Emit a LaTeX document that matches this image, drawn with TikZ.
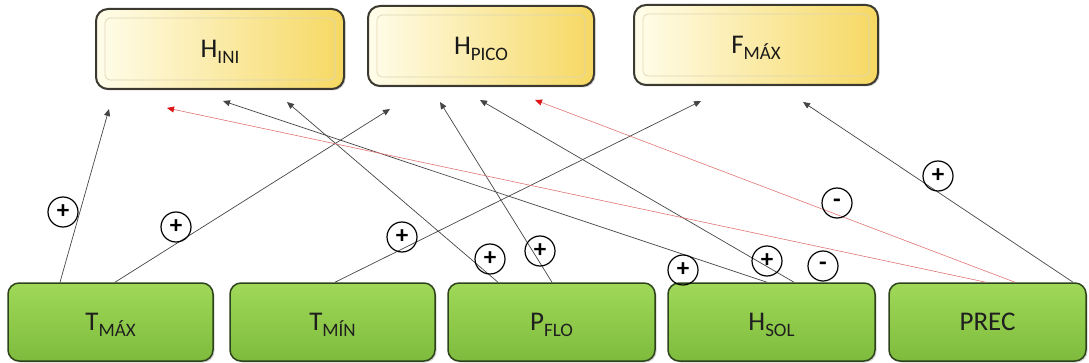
\documentclass[tikz,border=0pt]{standalone}
\usepackage{fontspec}
\setmainfont{Carlito}
\usetikzlibrary{arrows.meta,shadows}

\definecolor{creamL}{HTML}{FFFDEB}
\definecolor{creamM}{HTML}{FEF3C2}
\definecolor{goldR}{HTML}{F6D862}
\definecolor{topedge}{HTML}{3C3A30}
\definecolor{innerln}{HTML}{DDD6B4}
\definecolor{greenT}{HTML}{A0D95A}
\definecolor{greenM}{HTML}{8FCB48}
\definecolor{greenB}{HTML}{7EBB3C}
\definecolor{greenedge}{HTML}{2D431B}
\definecolor{linkgray}{HTML}{454545}
\definecolor{linkred}{HTML}{E27474}
\definecolor{tipred}{HTML}{E01414}

% variable name with a lowered subscript that does not change the box height
\newcommand\varname[2]{#1\raisebox{-6pt}[0pt][0pt]{\fontsize{19}{22}\selectfont #2}}

\tikzset{
  outbox/.style={rounded corners=12pt, draw=topedge, line width=2pt,
    left color=creamL, middle color=creamM, right color=goldR,
    minimum height=80pt, inner sep=0pt, text=black!90,
    font=\fontsize{27}{30}\selectfont,
    drop shadow={shadow xshift=1.5pt, shadow yshift=-1.5pt, opacity=0.35}},
  inbox/.style={rounded corners=11pt, draw=greenedge, line width=1.5pt,
    top color=greenT, middle color=greenM, bottom color=greenB,
    minimum height=78pt, inner sep=0pt, text=black!88,
    font=\fontsize{27}{30}\selectfont,
    drop shadow={shadow xshift=1.5pt, shadow yshift=-1.5pt, opacity=0.35}},
  innerline/.style={draw=innerln, line width=0.7pt, rounded corners=5pt},
  link/.style={draw=linkgray, line width=0.7pt,
    -{Triangle[length=7pt, width=6pt]}},
  neglink/.style={draw=linkred, line width=0.6pt,
    -{Triangle[length=7pt, width=6pt, color=tipred]}},
  sign/.style={circle, draw=black, line width=1.2pt, minimum size=30pt,
    inner sep=0pt, font=\bfseries\fontsize{25}{27}\selectfont}
}

\begin{document}
\begin{tikzpicture}[x=1pt, y=-1pt]
\useasboundingbox (0,0) rectangle (1089,363);

% response variables
\node[outbox, minimum width=248pt] (hini)  at (220,49) {\varname{H}{INI}};
\node[outbox, minimum width=226pt] (hpico) at (481,46) {\varname{H}{PICO}};
\node[outbox, minimum width=244pt] (fmax)  at (756,45) {\varname{F}{MÁX}};
\foreach \n in {hini,hpico,fmax}
  \draw[innerline] ([shift={(10,10)}]\n.north west) rectangle ([shift={(-10,-10)}]\n.south east);

% explanatory variables
\node[inbox, minimum width=205pt] (tmax) at (110.5,322) {\varname{T}{MÁX}};
\node[inbox, minimum width=205pt] (tmin) at (332.5,322) {\varname{T}{MÍN}};
\node[inbox, minimum width=207pt] (pflo) at (551.5,322) {\varname{P}{FLO}};
\node[inbox, minimum width=207pt] (hsol) at (771.5,322) {\varname{H}{SOL}};
\node[inbox, minimum width=197pt] (prec) at (987.5,322) {PREC};

% arrow tips below the response boxes
\coordinate (e1)  at (109,109);
\coordinate (e2)  at (167,108);
\coordinate (e3)  at (223,101);
\coordinate (e4)  at (287,102);
\coordinate (e5)  at (390,109);
\coordinate (e6)  at (440,102);
\coordinate (e7)  at (480,100);
\coordinate (e8)  at (535,100);
\coordinate (e9)  at (701,101);
\coordinate (e10) at (803,102);

% effects
\draw[link]    ([xshift=-50.5pt]tmax.north) -- (e1);
\draw[link]    ([xshift=4.5pt]tmax.north)   -- (e5);
\draw[link]    ([xshift=2.5pt]tmin.north)   -- (e9);
\draw[link]    ([xshift=-53.5pt]pflo.north) -- (e4);
\draw[link]    ([xshift=0.5pt]pflo.north)   -- (e6);
\draw[link]    ([xshift=-4.5pt]hsol.north)  -- (e3);
\draw[link]    ([xshift=22.5pt]hsol.north)  -- (e7);
\draw[neglink] ([xshift=-1.5pt]prec.north)  -- (e2);
\draw[neglink] ([xshift=27.5pt]prec.north)  -- (e8);
\draw[link]    ([xshift=85.5pt]prec.north)  -- (e10);

% signs of the effects
\node[sign] (s1)  at (63,212)  {+};
\node[sign] (s2)  at (176,227) {+};
\node[sign] (s3)  at (402,237) {+};
\node[sign] (s4)  at (490,259) {+};
\node[sign] (s5)  at (540,251) {+};
\node[sign] (s6)  at (683,270) {+};
\node[sign] (s7)  at (767,261) {+};
\node[sign] (s8)  at (823,266) {-};
\node[sign] (s9)  at (837,203) {-};
\node[sign] (s10) at (938,176) {+};
\end{tikzpicture}
\end{document}
